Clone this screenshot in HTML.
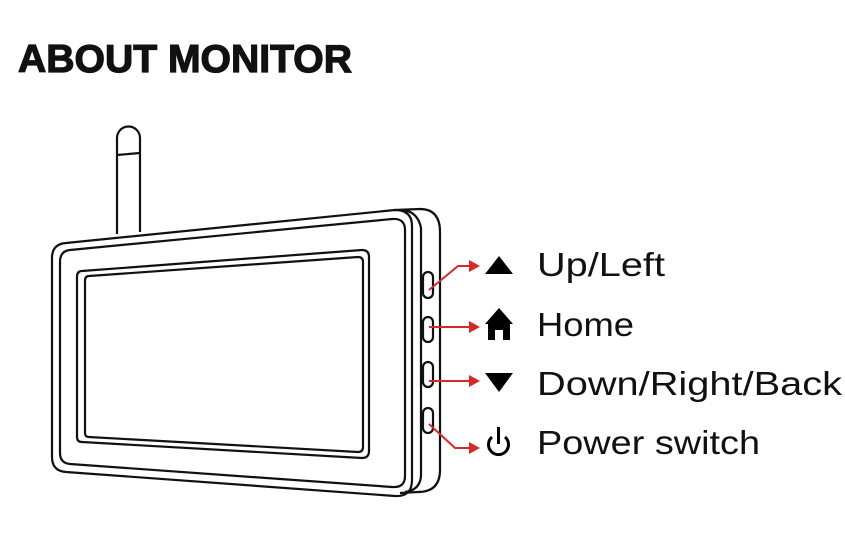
<!DOCTYPE html>
<html><head><meta charset="utf-8"><style>
html,body{margin:0;padding:0;background:#fff;width:845px;height:535px;overflow:hidden}
svg{display:block}
</style></head><body>
<svg width="845" height="535" viewBox="0 0 845 535" xmlns="http://www.w3.org/2000/svg">
<text x="18" y="72" font-family="Liberation Sans, sans-serif" font-weight="bold" font-size="39" fill="#111" textLength="334" lengthAdjust="spacingAndGlyphs" stroke="#111" stroke-width="1.2">ABOUT MONITOR</text>
<g fill="none" stroke="#111" stroke-width="2.2" stroke-linejoin="round">
<path d="M117 234 L117 138 A11.5 11.5 0 0 1 140 138 L140 232"/>
<path d="M117 155 L140 153"/>
<path d="M395 210 L420 209 Q440 209 440 232 L440 470 Q440 492 418 492 L400 493"/>
<path d="M403 210 Q418 212 421 228 L421 476 Q420 490 405 492"/>
<path d="M66 243 L395 210 Q412 210 412 226 L412 480 Q412 497 395 496 L66 472 Q52 471 52 457 L52 258 Q52 244 66 243 Z"/>
<path d="M70 250 L392 219 Q405 218 405 230 L405 476 Q405 488 392 487 L70 464 Q60 463 60 453 L60 262 Q60 251 70 250 Z"/>
<path d="M82 271 L362 250 Q369 250 369 257 L369 451 Q369 458 362 458 L82 442 Q77 442 77 437 L77 277 Q77 271 82 271 Z"/>
<path d="M89 276 L358 257 Q363 257 363 262 L363 447 Q363 452 358 452 L89 437 Q85 437 85 433 L85 281 Q85 276 89 276 Z"/>
<rect x="423" y="272" width="10" height="26" rx="5"/>
<rect x="423" y="317" width="10" height="25" rx="5"/>
<rect x="423" y="362" width="10" height="25" rx="5"/>
<rect x="423" y="408" width="10" height="25" rx="5"/>
</g>
<g fill="none" stroke="#d62a2a" stroke-width="2">
<path d="M429 290 L458 266 L472 266"/>
<path d="M429 327 L472 327"/>
<path d="M429 381 L472 381"/>
<path d="M429 424 L455 448 L472 448"/>
</g>
<g fill="#d62a2a">
<path d="M480 266 L469 260 L469 272 Z"/>
<path d="M480 327 L469 321 L469 333 Z"/>
<path d="M480 381 L469 375 L469 387 Z"/>
<path d="M480 448 L469 442 L469 454 Z"/>
</g>
<g fill="#000">
<path d="M485 274 L499 256 L513 274 Z"/>
<path d="M499 308 L513 324 L510 324 L510 340 L503 340 L503 330 L495 330 L495 340 L488 340 L488 324 L485 324 Z"/>
<path d="M485 373 L513 373 L499 392 Z"/>
</g>
<g fill="none" stroke="#000" stroke-width="3">
<path d="M492 437 A10 10 0 1 0 505 437"/>
<path d="M498.5 427 L498.5 444"/>
</g>
<g font-family="Liberation Sans, sans-serif" font-size="33" fill="#111">
<text x="537" y="276" textLength="128" lengthAdjust="spacingAndGlyphs">Up/Left</text>
<text x="537" y="336" textLength="97" lengthAdjust="spacingAndGlyphs">Home</text>
<text x="537" y="395" textLength="305" lengthAdjust="spacingAndGlyphs">Down/Right/Back</text>
<text x="537" y="454" textLength="223" lengthAdjust="spacingAndGlyphs">Power switch</text>
</g>
</svg>
</body></html>
